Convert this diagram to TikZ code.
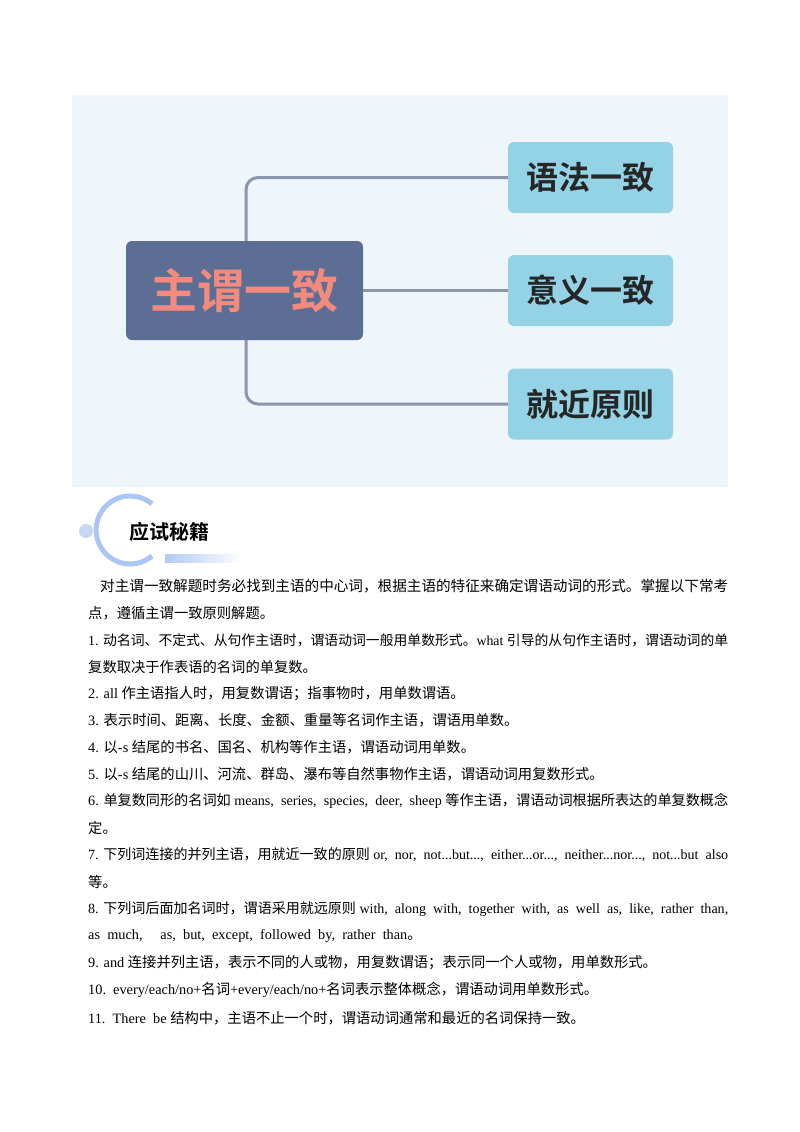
\documentclass[tikz,border=0pt]{standalone}
\usepackage{graphicx}
\usepackage{fontspec}
\setmainfont{Liberation Serif}
\newfontfamily\cjk{Noto Sans CJK SC}
\newfontfamily\cjkb{Noto Sans CJK SC Bold}
\definecolor{bgc}{HTML}{EEF6FB}
\definecolor{mainc}{HTML}{5D6E94}
\definecolor{salm}{HTML}{F28A7E}
\definecolor{boxc}{HTML}{94D3E6}
\definecolor{linec}{HTML}{8C96AA}
\definecolor{ringc}{HTML}{7FA8EC}
\newcommand{\fullw}[2]{\resizebox{#1pt}{!}{#2}}
\begin{document}
\begin{tikzpicture}[x=1pt,y=-1pt,
  sub/.style={fill=boxc,rounded corners=6pt,minimum width=165pt,minimum height=71pt,font=\cjkb\fontsize{32}{34}\selectfont,text=black!85},
  conn/.style={draw=linec,line width=3pt,rounded corners=12pt},
  tl/.style={anchor=west,inner sep=0pt,font=\fontsize{14.3}{16}\selectfont}]
\useasboundingbox (0,0) rectangle (800,1132);
\fill[white] (0,0) rectangle (800,1132);
\fill[bgc] (72,95) rectangle (728,487);
\node[sub] (b1) at (590.5,177.5) {语法一致};
\node[sub] (b2) at (590.5,290.5) {意义一致};
\node[sub] (b3) at (590.5,404) {就近原则};
\coordinate (mt) at (246,241);
\coordinate (mb) at (246,340);
\draw[conn] (mt) |- (b1.west);
\draw[conn] (mb) |- (b3.west);
\node[fill=mainc,rounded corners=6pt,minimum width=237pt,minimum height=99pt,font=\cjkb\fontsize{47}{50}\selectfont,text=salm] (m) at (244.5,290.5) {主谓一致};
\draw[conn] (m.east) -- (b2.west);
% header
\shade[left color=ringc!60,right color=white] (165,554) rectangle (242,562);
\draw[line width=5pt,ringc!65] (152,556) arc[start angle=50,end angle=310,radius=34];
\fill[ringc!45] (86,531) circle (7);
\node[anchor=west,inner sep=0pt,font=\cjkb\fontsize{20}{22}\selectfont] (h) at (129,532) {应试秘籍};
% text
\node[tl] (l1) at (100,586) {\fullw{628}{\cjk 对主谓一致解题时务必找到主语的中心词，根据主语的特征来确定谓语动词的形式。掌握以下常考}};
\node[tl] (l2) at (88,613) {\cjk 点，遵循主谓一致原则解题。};
\node[tl] (l3) at (88,640) {\fullw{640}{1. {\cjk 动名词、不定式、从句作主语时，谓语动词一般用单数形式。}what {\cjk 引导的从句作主语时，谓语动词的单}}};
\node[tl] (l4) at (88,667) {\cjk 复数取决于作表语的名词的单复数。};
\node[tl] (l5) at (88,694) {2. all {\cjk 作主语指人时，用复数谓语；指事物时，用单数谓语。}};
\node[tl] (l6) at (88,720) {3. {\cjk 表示时间、距离、长度、金额、重量等名词作主语，谓语用单数。}};
\node[tl] (l7) at (88,747) {4. {\cjk 以}-s {\cjk 结尾的书名、国名、机构等作主语，谓语动词用单数。}};
\node[tl] (l8) at (88,774) {5. {\cjk 以}-s {\cjk 结尾的山川、河流、群岛、瀑布等自然事物作主语，谓语动词用复数形式。}};
\node[tl] (l9) at (88,801) {\fullw{640}{6. {\cjk 单复数同形的名词如} means,\ \ series,\ \ species,\ \ deer,\ \ sheep {\cjk 等作主语，谓语动词根据所表达的单复数概念}}};
\node[tl] (l10) at (88,828) {\cjk 定。};
\node[tl] (l11) at (88,855) {\fullw{640}{7. {\cjk 下列词连接的并列主语，用就近一致的原则} or,\ \ nor,\ \ not...but...,\ \ either...or...,\ \ neither...nor...,\ \ not...but\ \ also}};
\node[tl] (l12) at (88,882) {\cjk 等。};
\node[tl] (l13) at (88,909) {\fullw{640}{8. {\cjk 下列词后面加名词时，谓语采用就远原则} with,\ \ along\ \ with,\ \ together\ \ with,\ \ as\ \ well\ \ as,\ \ like,\ \ rather\ \ than,}};
\node[tl] (l14) at (88,936) {as\ \ much,\ \ \ \ \ as,\ \ but,\ \ except,\ \ followed\ \ by,\ \ rather\ \ than{\cjk 。}};
\node[tl] (l15) at (88,963) {9. and {\cjk 连接并列主语，表示不同的人或物，用复数谓语；表示同一个人或物，用单数形式。}};
\node[tl] (l16) at (88,990) {10.\ \ every/each/no+{\cjk 名词}+every/each/no+{\cjk 名词表示整体概念，谓语动词用单数形式。}};
\node[tl] (l17) at (88,1018) {11.\ \ There\ \ be {\cjk 结构中，主语不止一个时，谓语动词通常和最近的名词保持一致。}};
\end{tikzpicture}
\end{document}
